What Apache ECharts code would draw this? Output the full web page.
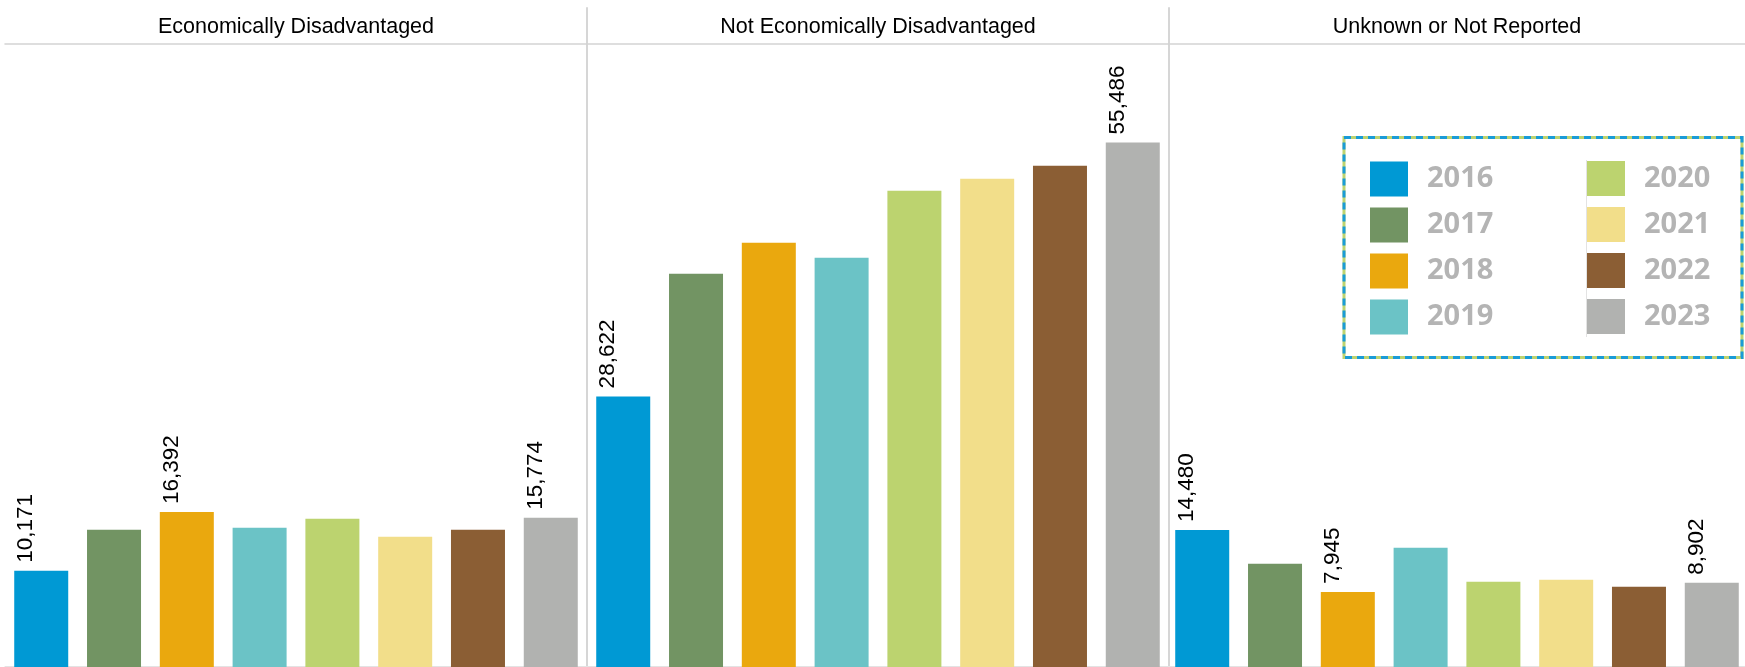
<!DOCTYPE html>
<html><head><meta charset="utf-8">
<script src="https://cdn.jsdelivr.net/npm/echarts@6/dist/echarts.min.js"></script>
<style>html,body{margin:0;padding:0;background:#fff}#c{width:1745px;height:667px}</style>
</head><body><div id="c"></div>
<script>
const panels = ['Economically Disadvantaged', 'Not Economically Disadvantaged', 'Unknown or Not Reported'];
const years = ['2016', '2017', '2018', '2019', '2020', '2021', '2022', '2023'];
const econDisadvantaged = [10171, 14506, 16392, 14718, 15670, 13766, 14506, 15774];
const notEconDisadvantaged = [28622, 41594, 44874, 43287, 50376, 51645, 53021, 55486];
const unknownNotReported = [14480, 10909, 7945, 12602, 9004, 9216, 8475, 8902];
const labelledYears = [['2016', '2018', '2023'], ['2016', '2023'], ['2016', '2018', '2023']];
const yearColors = ['#0099d4', '#729463', '#eaa80e', '#6bc3c6', '#bcd36f', '#f2de8a', '#8b5e34', '#b1b2b0'];

const panelValues = [econDisadvantaged, notEconDisadvantaged, unknownNotReported];
const FONT = "'Liberation Sans', Arial, sans-serif";
const PANEL_W = 582;

const grids = panels.map((_, i) => ({ left: 5 + PANEL_W * i, top: 8, width: PANEL_W, bottom: 0 }));

const xAxes = [];
panels.forEach((p, i) => {
  xAxes.push({
    gridIndex: i, type: 'category', data: [p], position: 'top', offset: -36,
    axisLine: { onZero: false, lineStyle: { color: '#d3d3d3', width: 1.5 } },
    axisTick: { show: false },
    axisLabel: { margin: 6, fontSize: 21.5, color: '#000', fontFamily: FONT },
    splitLine: { show: false }
  });
});
panels.forEach((p, i) => {
  xAxes.push({
    gridIndex: i, type: 'category', data: [p], position: 'bottom', offset: -1,
    axisLine: { onZero: false, lineStyle: { color: '#e3e3e3', width: 1 } },
    axisTick: { show: false }, axisLabel: { show: false }, splitLine: { show: false }
  });
});

const yAxes = panels.map((_, i) => ({
  gridIndex: i, type: 'value', min: 0, max: 69700,
  axisLine: { show: i > 0, lineStyle: { color: '#d6d6d6', width: 2 } },
  axisTick: { show: false }, axisLabel: { show: false }, splitLine: { show: false }
}));

const series = [];
panels.forEach((p, i) => {
  years.forEach((y, j) => {
    series.push({
      type: 'bar', name: y, xAxisIndex: i, yAxisIndex: i,
      barWidth: 54, barGap: '34.8%',
      itemStyle: { color: yearColors[j] },
      emphasis: { disabled: true },
      label: {
        show: labelledYears[i].includes(y),
        position: 'top', rotate: 90, align: 'left', verticalAlign: 'middle',
        distance: 8, offset: [0, -15],
        fontFamily: FONT, fontSize: 22.5, color: '#000',
        formatter: (d) => Number(d.value).toLocaleString('en-US')
      },
      data: [panelValues[i][j]]
    });
  });
});

const legendCommon = {
  orient: 'vertical', icon: 'rect', itemWidth: 38, itemHeight: 35, itemGap: 11,
  padding: 0, selectedMode: false,
  textStyle: { fontFamily: "'Open Sans', 'Noto Sans', sans-serif", fontSize: 29, fontWeight: 'bold', color: '#b4b4b4', padding: [5, 0, 0, 14] }
};

const chart = echarts.init(document.getElementById('c'), null, { renderer: 'canvas' });
chart.setOption({
  animation: false,
  backgroundColor: '#fff',
  grid: grids,
  xAxis: xAxes,
  yAxis: yAxes,
  legend: [
    Object.assign({}, legendCommon, { data: years.slice(0, 4), left: 1370, top: 161.5 }),
    Object.assign({}, legendCommon, { data: years.slice(4), left: 1587, top: 161 })
  ],
  graphic: [
    { type: 'rect', z: 1, shape: { x: 1344, y: 137.5, width: 398, height: 220 }, style: { fill: '#fff', stroke: '#bdd36f', lineWidth: 3 } },
    { type: 'rect', z: 2, shape: { x: 1344, y: 137.5, width: 398, height: 220 }, style: { fill: null, stroke: '#1a9bd7', lineWidth: 3, lineDash: [7, 5] } },
    { type: 'line', z: 3, shape: { x1: 1586.5, y1: 160, x2: 1586.5, y2: 337 }, style: { stroke: '#e3e3e3', lineWidth: 1 } }
  ],
  series: series
});
</script></body></html>
